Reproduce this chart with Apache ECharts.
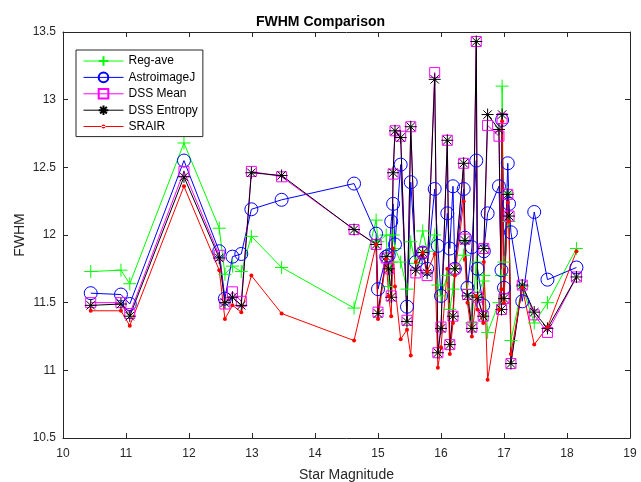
<!DOCTYPE html>
<html>
<head>
<meta charset="utf-8">
<script src="https://cdn.jsdelivr.net/npm/echarts@6/dist/echarts.min.js"></script>
<style>
  html, body { margin: 0; padding: 0; background: #fff; }
  #chart_id { width: 641px; height: 482px; }
</style>
</head>
<body>
<div id="chart_id"></div>
<script>
// star magnitude of each star (x)
var magnitude = [10.44, 10.92, 11.06, 11.92, 12.48, 12.57, 12.69, 12.83, 12.99, 13.47,
  14.62, 14.97, 15.00, 15.13, 15.17, 15.21, 15.24, 15.27, 15.36, 15.46,
  15.52, 15.60, 15.71, 15.78, 15.90, 15.95, 16.00, 16.10, 16.14, 16.19,
  16.22, 16.36, 16.38, 16.42, 16.49, 16.56, 16.58, 16.67, 16.68, 16.74,
  16.92, 16.96, 16.97, 17.00, 17.06, 17.08, 17.11, 17.29, 17.48, 17.69, 18.15];

var regAve = [11.73, 11.74, 11.64, 12.68, 12.05, 11.71, 11.77, 11.73, 11.99, 11.76,
  11.46, 12.11, 11.95, 12.00, 11.62, 11.80, 12.00, 11.90, 11.80, 11.60,
  11.95, 11.79, 12.03, 11.88, 12.00, 11.63, 11.55, 11.70, 11.45, 11.60,
  11.75, 11.85, 11.95, 11.60, 11.35, 11.80, 11.55, 11.66, 11.70, 11.28,
  11.50, 11.70, 13.10, 11.80, 12.31, 12.10, 11.22, 11.62, 11.35, 11.50, 11.90];

var astroImageJ = [11.57, 11.56, 11.49, 12.55, 11.88, 11.53, 11.84, 11.86, 12.19, 12.26,
  12.38, 12.01, 11.60, 11.84, 11.85, 12.10, 12.23, 11.93, 12.52, 11.47,
  12.39, 11.80, 11.87, 11.75, 12.34, 11.92, 11.55, 12.16, 11.90, 12.36,
  11.75, 12.34, 11.98, 11.61, 11.91, 12.55, 11.75, 11.48, 11.88, 12.16,
  12.36, 11.74, 12.85, 11.61, 12.53, 12.23, 12.02, 11.51, 12.17, 11.67, 11.76];

var dssMean = [11.50, 11.50, 11.42, 12.47, 11.85, 11.49, 11.58, 11.51, 12.47, 12.43,
  12.04, 11.93, 11.43, 11.83, 11.75, 11.55, 12.45, 12.77, 12.73, 11.37,
  12.80, 11.72, 11.87, 11.70, 13.20, 11.13, 11.32, 12.70, 11.19, 11.40,
  11.75, 12.53, 11.97, 11.56, 11.32, 13.43, 11.54, 11.40, 11.90, 12.81,
  12.73, 11.45, 12.86, 11.53, 12.30, 12.14, 11.05, 11.63, 11.41, 11.28, 11.69];

var dssEntropy = [11.48, 11.49, 11.40, 12.43, 11.83, 11.50, 11.54, 11.48, 12.46, 12.44,
  12.04, 11.93, 11.42, 11.84, 11.75, 11.54, 12.46, 12.77, 12.72, 11.36,
  12.80, 11.74, 11.87, 11.72, 13.15, 11.13, 11.31, 12.70, 11.19, 11.40,
  11.75, 12.53, 11.96, 11.55, 11.31, 13.43, 11.54, 11.40, 11.90, 12.89,
  12.78, 11.45, 12.89, 11.53, 12.30, 12.14, 11.05, 11.63, 11.43, 11.31, 11.69];

var srair = [11.44, 11.44, 11.33, 12.36, 11.74, 11.38, 11.48, 11.43, 11.70, 11.42,
  11.22, 11.93, 11.38, 11.82, 11.55, 11.40, 11.90, 11.62, 11.23, 11.30,
  11.11, 11.80, 11.87, 11.73, 11.86, 11.02, 11.17, 11.75, 11.12, 11.35,
  11.70, 12.25, 11.82, 11.50, 11.25, 11.55, 11.45, 11.35, 11.80, 10.93,
  11.45, 11.60, 12.84, 11.50, 12.24, 12.10, 11.12, 11.61, 11.19, 11.32, 11.88];

var legendNames = ['Reg-ave', 'AstroimageJ', 'DSS Mean', 'DSS Entropy', 'SRAIR'];

function pairs(ys) {
  return magnitude.map(function (x, i) { return [x, ys[i]]; });
}

var plusPath = 'path://M0,5L10,5M5,0L5,10';
var starPath = 'path://M0,5L10,5M5,0L5,10M1.5,1.5L8.5,8.5M1.5,8.5L8.5,1.5';
// legend icon for SRAIR: thin line with a small dot in the middle
var dotLinePath = 'path://M0,5.5L40,5.5L40,6.5L0,6.5Z M18,6A2,2 0 1 0 22,6A2,2 0 1 0 18,6Z';
var font = 'Liberation Sans, Arial, Helvetica, sans-serif';

function mkSeries(name, ys, color, symbol, size, filled) {
  return {
    name: name,
    type: 'line',
    data: pairs(ys),
    symbol: symbol,
    symbolSize: size,
    showSymbol: true,
    lineStyle: { color: color, width: 1 },
    itemStyle: filled
      ? { color: color, borderColor: color, borderWidth: 0 }
      : { color: 'rgba(0,0,0,0)', borderColor: color, borderWidth: 1 },
    emphasis: { disabled: true }
  };
}

var chart = echarts.init(document.getElementById('chart_id'));
var option = {
  animation: false,
  backgroundColor: '#fff',
  title: {
    text: 'FWHM Comparison',
    left: 'center',
    top: 10,
    textStyle: { fontFamily: font, fontSize: 14, fontWeight: 'bold', color: '#000' }
  },
  legend: {
    orient: 'vertical',
    left: 76,
    top: 50,
    data: [
      legendNames[0], legendNames[1], legendNames[2], legendNames[3],
      { name: legendNames[4], icon: dotLinePath, itemStyle: { color: '#ff0000' } }
    ],
    selectedMode: false,
    itemWidth: 40,
    itemHeight: 12,
    itemGap: 4.4,
    padding: [5, 5, 4, 7],
    lineStyle: { width: 1 },
    backgroundColor: '#fff',
    borderColor: '#262626',
    borderWidth: 1,
    textStyle: { fontFamily: font, fontSize: 12, color: '#000' }
  },
  grid: { left: 63, right: 11, top: 32, bottom: 44, outerBoundsMode: 'none', containLabel: false },
  xAxis: [
    {
      type: 'value', min: 10, max: 19, interval: 1,
      name: 'Star Magnitude', nameLocation: 'middle', nameGap: 30,
      nameTextStyle: { fontFamily: font, fontSize: 14, color: '#262626' },
      axisLine: { lineStyle: { color: '#262626', width: 1 } },
      axisTick: { inside: true, length: 5, lineStyle: { color: '#262626' } },
      axisLabel: { fontFamily: font, fontSize: 12, color: '#262626', margin: 10 },
      splitLine: { show: false }
    },
    {
      type: 'value', min: 10, max: 19, interval: 1, position: 'top',
      axisLine: { lineStyle: { color: '#262626', width: 1 } },
      axisTick: { inside: true, length: 5, lineStyle: { color: '#262626' } },
      axisLabel: { show: false },
      splitLine: { show: false }
    }
  ],
  yAxis: [
    {
      type: 'value', min: 10.5, max: 13.5, interval: 0.5,
      name: 'FWHM', nameLocation: 'middle', nameGap: 36, nameMoveOverlap: false,
      nameTextStyle: { fontFamily: font, fontSize: 14, color: '#262626' },
      axisLine: { show: true, lineStyle: { color: '#262626', width: 1 } },
      axisTick: { show: true, inside: true, length: 5, lineStyle: { color: '#262626' } },
      axisLabel: { fontFamily: font, fontSize: 12, color: '#262626', margin: 7 },
      splitLine: { show: false }
    },
    {
      type: 'value', min: 10.5, max: 13.5, interval: 0.5, position: 'right',
      axisLine: { show: true, lineStyle: { color: '#262626', width: 1 } },
      axisTick: { show: true, inside: true, length: 5, lineStyle: { color: '#262626' } },
      axisLabel: { show: false },
      splitLine: { show: false }
    }
  ],
  series: [
    mkSeries(legendNames[0], regAve, '#00ff00', plusPath, 13, false),
    mkSeries(legendNames[1], astroImageJ, '#0000ff', 'circle', 13, false),
    mkSeries(legendNames[2], dssMean, '#ff00ff', 'rect', 10, false),
    mkSeries(legendNames[3], dssEntropy, '#000000', starPath, 12, false),
    mkSeries(legendNames[4], srair, '#ff0000', 'circle', 4, true)
  ]
};
chart.setOption(option);
</script>
</body>
</html>
